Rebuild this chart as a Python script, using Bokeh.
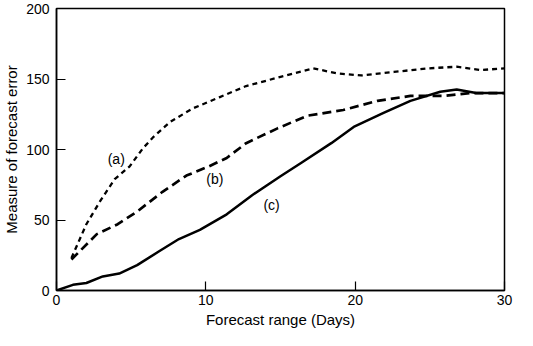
from bokeh.plotting import figure
from bokeh.models import Range1d, FixedTicker
from bokeh.embed import file_html
from bokeh.resources import INLINE
from bokeh.core.properties import value

# Curve (a): short dashes
a_x = [1.0, 2.0, 2.9, 3.9, 4.9, 5.8, 6.5, 7.6, 9.1, 10.9, 12.7, 15.0, 17.2, 18.8, 20.4, 22.6, 24.8, 26.8, 28.4, 30.0]
a_y = [23, 47, 63, 79, 88, 101, 109, 119.5, 129, 137, 145, 151.5, 157.5, 154, 152.5, 155, 157.5, 158.7, 156.4, 157.5]

# Curve (b): long dashes
b_x = [1.0, 2.7, 4.1, 5.4, 7.1, 8.7, 10.2, 11.4, 12.7, 14.8, 16.8, 19.2, 21.5, 23.7, 25.9, 27.7, 30.0]
b_y = [22, 40, 47, 56, 70, 81.5, 88, 94, 104.5, 115, 124, 128, 134.5, 138, 138, 140, 140]

# Curve (c): solid
c_x = [0, 1.1, 2.0, 3.1, 4.2, 5.4, 6.9, 8.2, 9.6, 11.4, 13.1, 15.0, 16.4, 18.4, 19.9, 21.9, 23.7, 25.7, 26.8, 28.1, 30.0]
c_y = [0, 4, 5.3, 10, 12, 18, 28, 36.5, 43, 54, 67.6, 81, 90.6, 104.5, 116, 126, 134.5, 141, 142.6, 140, 140]

label_text = ["(a)", "(b)", "(c)"]
label_x = [4.0, 10.6, 14.4]
label_y = [93, 79, 60.6]

x_ticks = [0, 10, 20, 30]
y_ticks = [0, 50, 100, 150, 200]

FONT = "Liberation Sans"

p = figure(width=517, height=330, output_backend="svg", toolbar_location=None,
           x_range=Range1d(0, 30), y_range=Range1d(0, 200),
           min_border_left=55, min_border_top=8, min_border_right=13, min_border_bottom=0)

p.xgrid.visible = False
p.ygrid.visible = False
p.outline_line_color = "black"
p.outline_line_width = 1.5
p.outline_line_alpha = 1.0

p.line(a_x, a_y, line_color="black", line_width=2.3, line_dash="5 4", line_join="round")
p.line(b_x, b_y, line_color="black", line_width=2.7, line_dash="9 5", line_join="round")
p.line(c_x, c_y, line_color="black", line_width=2.5, line_join="round", line_cap="round")

p.text(x=label_x, y=label_y, text=label_text, text_font=value(FONT), text_font_size="14px",
       text_align="center", text_baseline="middle", text_color="black")

for ax in (p.xaxis[0], p.yaxis[0]):
    ax.axis_line_color = "black"
    ax.axis_line_width = 1.5
    ax.major_tick_in = 9
    ax.major_tick_out = 0
    ax.minor_tick_in = 0
    ax.minor_tick_out = 0
    ax.major_tick_line_color = "black"
    ax.major_tick_line_width = 1.2
    ax.major_label_text_font = FONT
    ax.major_label_text_font_size = "14px"
    ax.major_label_text_color = "black"
    ax.axis_label_text_font = FONT
    ax.axis_label_text_font_size = "15px"
    ax.axis_label_text_font_style = "normal"
    ax.axis_label_text_color = "black"

p.xaxis[0].ticker = FixedTicker(ticks=x_ticks)
p.yaxis[0].ticker = FixedTicker(ticks=y_ticks)
p.xaxis[0].axis_label = "Forecast range (Days)"
p.yaxis[0].axis_label = "Measure of forecast error"
p.xaxis[0].major_label_standoff = 4
p.xaxis[0].axis_label_standoff = 3
p.yaxis[0].major_label_standoff = 7
p.yaxis[0].axis_label_standoff = 3

open("out.html", "w").write(file_html(p, INLINE))
